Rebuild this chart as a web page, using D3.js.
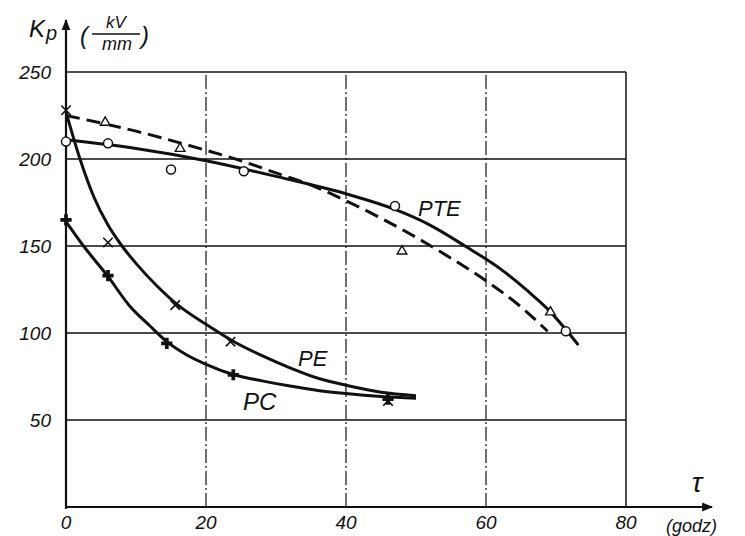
<!DOCTYPE html>
<html><head><meta charset="utf-8">
<script src="https://cdn.jsdelivr.net/npm/d3@7"></script>
<style>
html,body{margin:0;padding:0;background:#fff;}
text{font-family:"Liberation Sans","DejaVu Sans",sans-serif;font-style:italic;fill:#111;}
</style></head>
<body><svg id="c" width="745" height="536"></svg>
<script>
// ---- data ----
const xTicks = [0, 20, 40, 60, 80];
const xTickLabels = ["0", "20", "40", "60", "80"];
const yTicks = [50, 100, 150, 200, 250];
const yTickLabels = ["50", "100", "150", "200", "250"];

// PTE solid curve (circles)
const pteSolidX = [0, 10, 20, 30, 40, 47, 52, 57, 62, 66, 69, 71.4, 73.2];
const pteSolidY = [211, 206, 199, 190, 180, 171, 162, 150, 137, 124, 113, 102, 93];
const pteCircleX = [0, 6, 15, 25.4, 47, 71.4];
const pteCircleY = [210, 209, 194, 193, 173, 101];

// PTE dashed curve (triangles)
const pteDashX = [0, 10, 20, 25, 30, 35, 40, 45, 50, 55, 60, 65, 68.8];
const pteDashY = [225, 216, 205, 199, 192, 185, 176, 166, 155, 143, 130, 115, 101];
const pteTriX = [5.6, 16.3, 48, 69.2];
const pteTriY = [221, 206, 147, 112];

// PE curve (x markers)
const peX = [0, 2, 4, 6, 8, 10, 13, 16, 20, 24, 28, 32, 36, 40, 45, 50];
const peY = [227, 200, 178, 162, 150, 140, 127, 116, 105, 95, 87, 80, 74, 70, 66, 64];
const peMarkX = [0, 6, 15.6, 23.5, 46];
const peMarkY = [228, 152, 116, 95, 61];

// PC curve (+ markers)
const pcX = [0, 2.5, 6, 9, 12, 14.4, 17.2, 20, 24, 28, 32, 36, 40, 45, 50];
const pcY = [164, 150, 132.5, 116, 104, 95, 87.5, 82, 76, 72.5, 69.5, 67, 65.2, 63.5, 62.5];
const pcMarkX = [0, 6, 14.4, 23.9, 46];
const pcMarkY = [165, 133, 94, 76, 62];

// ---- drawing ----
const svg = d3.select("#c");
const x = d3.scaleLinear().domain([0, 80]).range([66, 626]);
const y = d3.scaleLinear().domain([0, 250]).range([507, 72]);
const ink = "#111";

// grid: horizontal
svg.append("g").selectAll("line").data(yTicks).join("line")
  .attr("x1", x(0)).attr("x2", x(80))
  .attr("y1", d => y(d)).attr("y2", d => y(d))
  .attr("stroke", ink).attr("stroke-width", 1.4);
// grid: vertical
svg.append("g").selectAll("line").data(xTicks.filter(d => d > 0)).join("line")
  .attr("x1", d => x(d)).attr("x2", d => x(d))
  .attr("y1", y(0)).attr("y2", y(250))
  .attr("stroke", ink).attr("stroke-width", d => d === 80 ? 1.5 : 1.2)
  .attr("stroke-dasharray", d => d === 80 ? null : "14,3,2,3");

// axes with arrows
const defs = svg.append("defs");
defs.append("marker").attr("id", "arr").attr("viewBox", "0 0 10 10")
  .attr("refX", 9).attr("refY", 5).attr("markerWidth", 7).attr("markerHeight", 5)
  .attr("orient", "auto").attr("markerUnits", "strokeWidth")
  .append("path").attr("d", "M0,1 L10,5 L0,9 Z").attr("fill", ink);
svg.append("line").attr("x1", x(0)).attr("x2", x(0)).attr("y1", y(0) + 2).attr("y2", 20)
  .attr("stroke", ink).attr("stroke-width", 2.2).attr("marker-end", "url(#arr)");
svg.append("line").attr("x1", x(0)).attr("x2", 712).attr("y1", y(0)).attr("y2", y(0))
  .attr("stroke", ink).attr("stroke-width", 2.2).attr("marker-end", "url(#arr)");

// tick labels
svg.append("g").selectAll("text").data(yTicks).join("text")
  .attr("x", 51).attr("y", d => y(d) + 7).attr("text-anchor", "end")
  .attr("font-size", 19).text((d, i) => yTickLabels[i]);
svg.append("g").selectAll("text").data(xTicks).join("text")
  .attr("x", d => x(d)).attr("y", 529).attr("text-anchor", "middle")
  .attr("font-size", 19).text((d, i) => xTickLabels[i]);

// axis titles
svg.append("text").attr("x", 29).attr("y", 37).attr("font-size", 24).text("K");
svg.append("text").attr("x", 46).attr("y", 40).attr("font-size", 20).text("p");
svg.append("text").attr("x", 80).attr("y", 44).attr("font-size", 24).text("(");
svg.append("text").attr("x", 116).attr("y", 28).attr("font-size", 17).attr("text-anchor", "middle").text("kV");
svg.append("line").attr("x1", 92).attr("x2", 140).attr("y1", 34).attr("y2", 34).attr("stroke", ink).attr("stroke-width", 1.6);
svg.append("text").attr("x", 117).attr("y", 50).attr("font-size", 18).attr("text-anchor", "middle").text("mm");
svg.append("text").attr("x", 141).attr("y", 44).attr("font-size", 24).text(")");
svg.append("text").attr("x", 697).attr("y", 492).attr("font-size", 28).attr("text-anchor", "middle").text("τ");
svg.append("text").attr("x", 666).attr("y", 532).attr("font-size", 18).text("(godz)");

// curves
const line = d3.line().x(d => x(d[0])).y(d => y(d[1])).curve(d3.curveMonotoneX);
const zip = (a, b) => a.map((v, i) => [v, b[i]]);
svg.append("path").attr("d", line(zip(pteSolidX, pteSolidY))).attr("fill", "none")
  .attr("stroke", ink).attr("stroke-width", 3);
svg.append("path").attr("d", line(zip(pteDashX, pteDashY))).attr("fill", "none")
  .attr("stroke", ink).attr("stroke-width", 3).attr("stroke-dasharray", "14,7");
svg.append("path").attr("d", line(zip(peX, peY))).attr("fill", "none")
  .attr("stroke", ink).attr("stroke-width", 3);
svg.append("path").attr("d", line(zip(pcX, pcY))).attr("fill", "none")
  .attr("stroke", ink).attr("stroke-width", 3);

// markers
svg.append("g").selectAll("circle").data(zip(pteCircleX, pteCircleY)).join("circle")
  .attr("cx", d => x(d[0])).attr("cy", d => y(d[1])).attr("r", 4.5)
  .attr("fill", "#fff").attr("stroke", ink).attr("stroke-width", 1.5);
svg.append("g").selectAll("path").data(zip(pteTriX, pteTriY)).join("path")
  .attr("d", d3.symbol().type(d3.symbolTriangle).size(40))
  .attr("transform", d => `translate(${x(d[0])},${y(d[1])})`)
  .attr("fill", "#fff").attr("stroke", ink).attr("stroke-width", 1.4);
svg.append("g").selectAll("path").data(zip(peMarkX, peMarkY)).join("path")
  .attr("d", d3.symbol().type(d3.symbolX).size(60))
  .attr("transform", d => `translate(${x(d[0])},${y(d[1])})`)
  .attr("fill", "none").attr("stroke", ink).attr("stroke-width", 1.6);
svg.append("g").selectAll("path").data(zip(pcMarkX, pcMarkY)).join("path")
  .attr("d", d3.symbol().type(d3.symbolCross).size(70))
  .attr("transform", d => `translate(${x(d[0])},${y(d[1])})`)
  .attr("fill", ink);

// curve labels
svg.append("text").attr("x", 418).attr("y", 216).attr("font-size", 22).text("PTE");
svg.append("text").attr("x", 298).attr("y", 366).attr("font-size", 22).text("PE");
svg.append("text").attr("x", 243).attr("y", 410).attr("font-size", 24).text("PC");
</script></body></html>
